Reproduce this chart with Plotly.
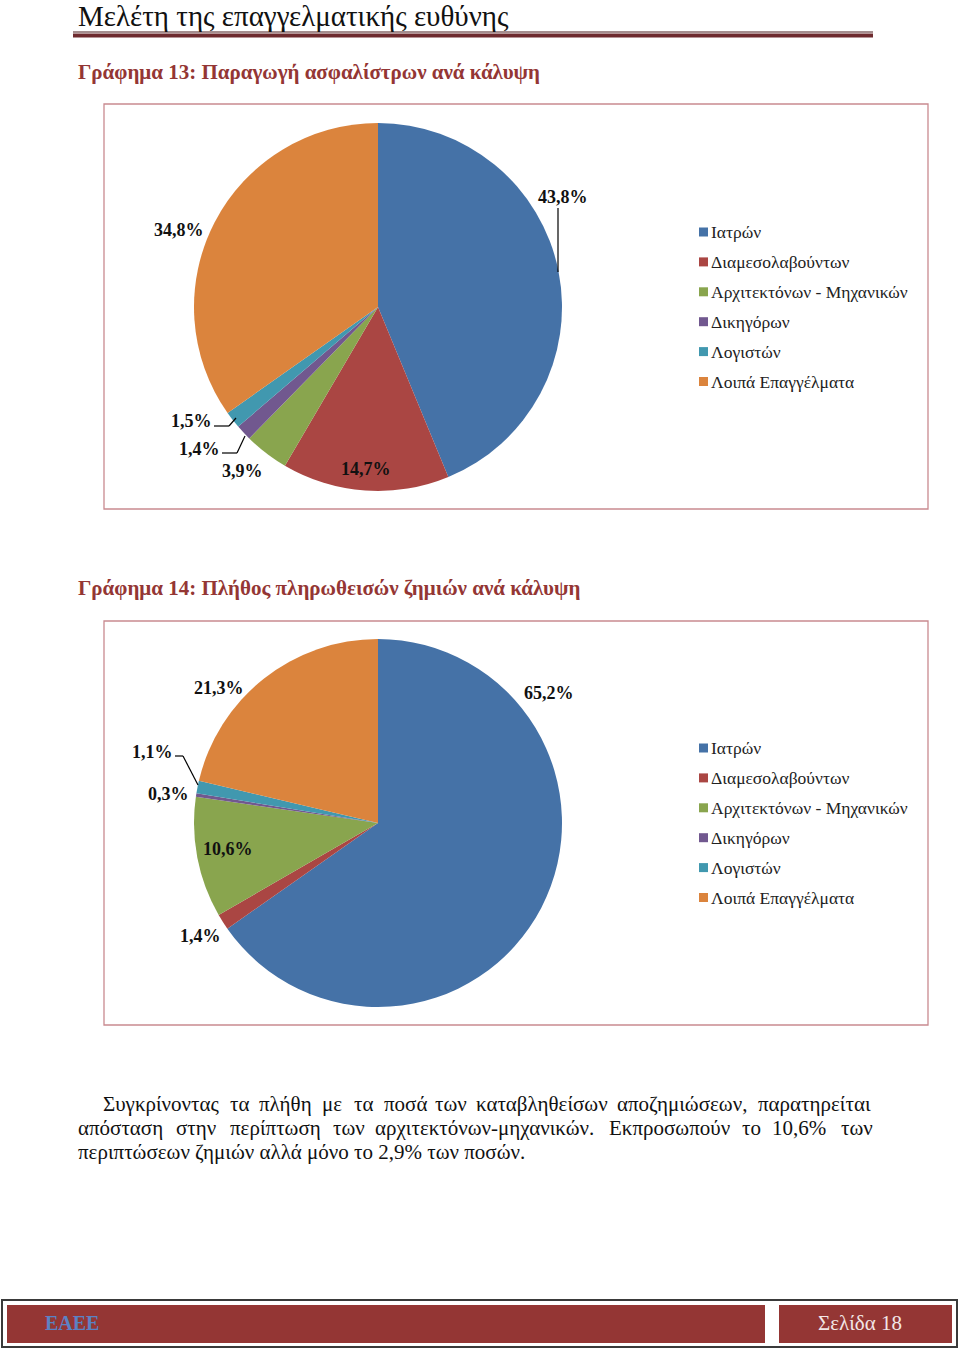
import plotly.graph_objects as go

W, H = 960, 1352

categories = ["Ιατρών", "Διαμεσολαβούντων", "Αρχιτεκτόνων - Μηχανικών",
              "Δικηγόρων", "Λογιστών", "Λοιπά Επαγγέλματα"]
premiums_pct = [43.8, 14.7, 3.9, 1.4, 1.5, 34.8]   # Γράφημα 13
claims_pct = [65.2, 1.4, 10.6, 0.3, 1.1, 21.3]     # Γράφημα 14
colors = ["#4572a7", "#aa4643", "#89a54e", "#71588f", "#4198af", "#db843d"]

header_text = "Μελέτη της επαγγελματικής ευθύνης"
title13 = "Γράφημα 13: Παραγωγή ασφαλίστρων ανά κάλυψη"
title14 = "Γράφημα 14: Πλήθος πληρωθεισών ζημιών ανά κάλυψη"
para_line1 = ["Συγκρίνοντας", "τα", "πλήθη", "με", "τα", "ποσά", "των",
              "καταβληθείσων", "αποζημιώσεων,", "παρατηρείται"]
para_line2 = ["απόσταση", "στην", "περίπτωση", "των", "αρχιτεκτόνων-μηχανικών.",
              "Εκπροσωπούν", "το", "10,6%", "των"]
para_line3 = "περιπτώσεων ζημιών αλλά μόνο το 2,9% των ποσών."
footer_left = "ΕΑΕΕ"
footer_right = "Σελίδα 18"


def X(px):
    return px / W


def Y(py):
    return 1 - py / H


def fmt(v):
    return f"{v:.1f}".replace(".", ",") + "%"


fig = go.Figure()

pies = [
    dict(values=premiums_pct, cx=378, cy=307, r=184),
    dict(values=claims_pct, cx=378, cy=823, r=184),
]
for p in pies:
    fig.add_trace(go.Pie(
        labels=categories, values=p["values"], sort=False, direction="clockwise",
        rotation=0, marker=dict(colors=colors, line=dict(width=0)),
        textinfo="none", hoverinfo="label+percent", showlegend=False,
        domain=dict(x=[X(p["cx"] - p["r"]), X(p["cx"] + p["r"])],
                    y=[Y(p["cy"] + p["r"]), Y(p["cy"] - p["r"])]),
    ))

shapes = []
annotations = []

# Header
annotations.append(dict(x=X(76), y=Y(15.5), xref="paper", yref="paper", xanchor="left",
                        yanchor="middle", text=header_text, showarrow=False,
                        font=dict(family="Liberation Serif", size=29, color="#111111")))
shapes.append(dict(type="line", xref="paper", yref="paper", x0=X(73), x1=X(873),
                   y0=Y(32), y1=Y(32), line=dict(color="#4a1c1f", width=1)))
shapes.append(dict(type="rect", xref="paper", yref="paper", x0=X(73), x1=X(873),
                   y0=Y(37.5), y1=Y(33.5), line=dict(width=0), fillcolor="#6e2a2e"))

# Titles
for txt, yy in [(title13, 72), (title14, 588)]:
    annotations.append(dict(x=X(76), y=Y(yy), xref="paper", yref="paper", xanchor="left",
                            yanchor="middle", text="<b>" + txt + "</b>", showarrow=False,
                            font=dict(family="Liberation Serif", size=21, color="#943634")))

# Chart boxes
for top, bot in [(104, 509), (621, 1025)]:
    shapes.append(dict(type="rect", xref="paper", yref="paper", x0=X(104), x1=X(928),
                       y0=Y(bot), y1=Y(top), line=dict(color="#c98a90", width=1.3)))

# Legends (manual, one per chart)
for y0 in [232, 748]:
    for i, lab in enumerate(categories):
        yy = y0 + i * 29.9
        shapes.append(dict(type="rect", xref="paper", yref="paper", x0=X(699), x1=X(708),
                           y0=Y(yy + 4.5), y1=Y(yy - 4.5), line=dict(width=0),
                           fillcolor=colors[i]))
        annotations.append(dict(x=X(709), y=Y(yy), xref="paper", yref="paper",
                                xanchor="left", yanchor="middle", text=lab, showarrow=False,
                                font=dict(family="Liberation Serif", size=17.5, color="#222222")))

# Data labels
label_pos = [
    [(563, 197), (366, 469), (242, 471), (199, 449), (191, 421), (179, 230)],
    [(549, 693), (200, 936), (228, 849), (168, 794), (152, 752), (219, 688)],
]
for vals, pos in zip([premiums_pct, claims_pct], label_pos):
    for v, (lx, ly) in zip(vals, pos):
        annotations.append(dict(x=X(lx), y=Y(ly), xref="paper", yref="paper",
                                xanchor="center", yanchor="middle", text="<b>" + fmt(v) + "</b>",
                                showarrow=False,
                                font=dict(family="Liberation Serif", size=18, color="#111111")))

# Leader lines
leaders = [
    [(558, 208), (558, 272)],
    [(214, 426), (229, 426), (236, 418)],
    [(222, 453), (237, 453), (245, 436)],
    [(175, 756), (183, 756), (198, 785)],
]
for pts in leaders:
    for (ax, ay), (bx, by) in zip(pts[:-1], pts[1:]):
        shapes.append(dict(type="line", xref="paper", yref="paper", x0=X(ax), y0=Y(ay),
                           x1=X(bx), y1=Y(by), line=dict(color="#000000", width=1.2)))

# Paragraph
line1_x = [101, 228, 257, 320, 352, 382, 433, 474, 615, 756]
line2_x = [76, 174, 228, 331, 373, 607, 740, 770, 839]
pfont = dict(family="Liberation Serif", size=21, color="#111111")
for words, xs, yy in [(para_line1, line1_x, 1104), (para_line2, line2_x, 1128)]:
    for w, xx in zip(words, xs):
        annotations.append(dict(x=X(xx), y=Y(yy), xref="paper", yref="paper", xanchor="left",
                                yanchor="middle", text=w, showarrow=False, font=pfont))
annotations.append(dict(x=X(76), y=Y(1152), xref="paper", yref="paper", xanchor="left",
                        yanchor="middle", text=para_line3, showarrow=False, font=pfont))

# Footer
shapes.append(dict(type="rect", xref="paper", yref="paper", x0=X(2), x1=X(957),
                   y0=Y(1347), y1=Y(1300), line=dict(color="#3a3a3a", width=2)))
shapes.append(dict(type="rect", xref="paper", yref="paper", x0=X(7), x1=X(765),
                   y0=Y(1343), y1=Y(1305), line=dict(width=0), fillcolor="#943634"))
shapes.append(dict(type="rect", xref="paper", yref="paper", x0=X(779), x1=X(952),
                   y0=Y(1343), y1=Y(1305), line=dict(width=0), fillcolor="#943634"))
annotations.append(dict(x=X(43), y=Y(1323), xref="paper", yref="paper", xanchor="left",
                        yanchor="middle", text="<b>" + footer_left + "</b>", showarrow=False,
                        font=dict(family="Liberation Serif", size=20, color="#5b82c4")))
annotations.append(dict(x=X(816), y=Y(1323), xref="paper", yref="paper", xanchor="left",
                        yanchor="middle", text=footer_right, showarrow=False,
                        font=dict(family="Liberation Serif", size=21, color="#f2e6e6")))

fig.update_layout(
    width=W, height=H, margin=dict(l=0, r=0, t=0, b=0),
    paper_bgcolor="white", plot_bgcolor="white",
    shapes=shapes, annotations=annotations, showlegend=False,
)

fig.write_html("out.html", config={"displayModeBar": False},
               post_script="document.body.style.margin='0px';"
                           "document.body.style.overflow='hidden';")
